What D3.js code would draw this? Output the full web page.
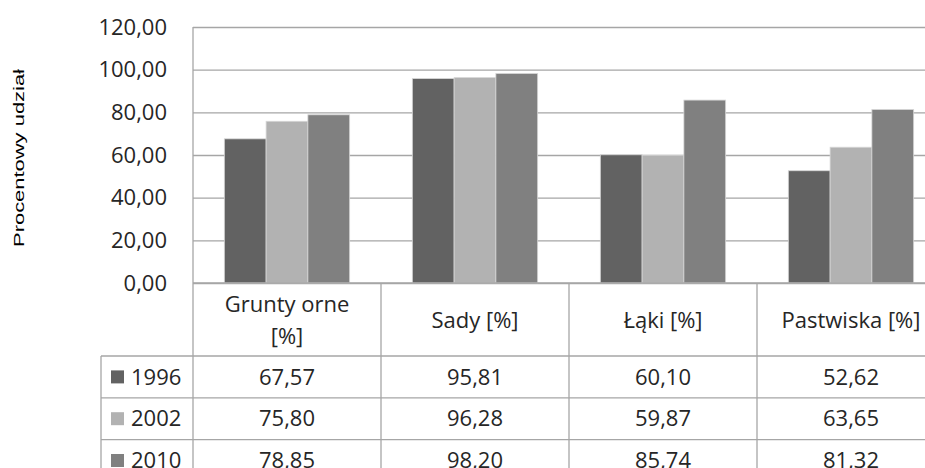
<!DOCTYPE html>
<html>
<head>
<meta charset="utf-8">
<script src="https://cdn.jsdelivr.net/npm/d3@7"></script>
<style>
  html, body { margin: 0; padding: 0; background: #fff; }
  svg { display: block; }
</style>
</head>
<body>
<svg id="chart" width="925" height="468"></svg>
<script>
const categories = ["Grunty orne [%]", "Sady [%]", "Łąki [%]", "Pastwiska [%]"];
const categoryLines = [["Grunty orne", "[%]"], ["Sady [%]"], ["Łąki [%]"], ["Pastwiska [%]"]];
const years = ["1996", "2002", "2010"];
const values1996 = [67.57, 95.81, 60.10, 52.62];
const values2002 = [75.80, 96.28, 59.87, 63.65];
const values2010 = [78.85, 98.20, 85.74, 81.32];
const yTicks = [0, 20, 40, 60, 80, 100, 120];
const yTitle = "Procentowy udział";
const colors = ["#626262", "#b2b2b2", "#808080"];

const seriesValues = [values1996, values2002, values2010];
const fmt = v => v.toFixed(2).replace(".", ",");

const svg = d3.select("#chart");
const plotLeft = 193, plotRight = 945, plotTop = 27, plotBottom = 283;
const tableLeft = 101;
const headerBottom = 356;
const rowH = 41.8;
const txtFont = "'Open Sans', Lato, sans-serif";
const txtColor = "#262626";
const gridColor = "#a6a6a6";

const y = d3.scaleLinear().domain([0, 120]).range([plotBottom, plotTop]);
const x0 = d3.scaleBand().domain(categories).range([plotLeft, plotRight]).padding(0);
const x1 = d3.scaleBand().domain(years).range([0, x0.bandwidth()]).paddingInner(0).paddingOuter(0.75);

// gridlines
const yAxis = d3.axisLeft(y).tickValues(yTicks).tickSize(-(plotRight - plotLeft)).tickFormat(fmt).tickPadding(26);
const gAxis = svg.append("g").attr("transform", `translate(${plotLeft},0)`).call(yAxis);
gAxis.select(".domain").remove();
gAxis.selectAll(".tick line").attr("stroke", gridColor).attr("stroke-width", 1.3);
gAxis.selectAll(".tick text")
  .attr("font-family", txtFont).attr("font-size", 22).attr("fill", txtColor);
// left border of plot
svg.append("line").attr("x1", plotLeft).attr("x2", plotLeft).attr("y1", plotTop).attr("y2", plotBottom)
  .attr("stroke", gridColor).attr("stroke-width", 1.3);

// bars
const groups = svg.append("g").selectAll("g").data(categories).join("g")
  .attr("transform", d => `translate(${x0(d)},0)`);
groups.selectAll("rect")
  .data((c, i) => years.map((yr, j) => ({ yr, j, v: seriesValues[j][i] })))
  .join("rect")
  .attr("x", d => x1(d.yr))
  .attr("width", x1.bandwidth())
  .attr("y", d => y(d.v))
  .attr("height", d => y(0) - y(d.v))
  .attr("fill", d => colors[d.j])
  .attr("stroke", "#d6d6d6")
  .attr("stroke-width", 0.8);

// table
const tbl = svg.append("g");
const rowTop = i => headerBottom + i * rowH;
tbl.append("line").attr("x1", plotLeft).attr("x2", plotRight).attr("y1", plotBottom).attr("y2", plotBottom)
  .attr("stroke", gridColor).attr("stroke-width", 1.3);
[0, 1, 2].forEach(i => {
  tbl.append("line").attr("x1", tableLeft).attr("x2", plotRight).attr("y1", rowTop(i)).attr("y2", rowTop(i))
    .attr("stroke", gridColor).attr("stroke-width", 1.3);
});
const bounds = categories.map(c => x0(c)).concat([plotRight]);
bounds.forEach(bx => {
  tbl.append("line").attr("x1", bx).attr("x2", bx).attr("y1", plotBottom).attr("y2", 480)
    .attr("stroke", gridColor).attr("stroke-width", 1.3);
});
tbl.append("line").attr("x1", tableLeft).attr("x2", tableLeft).attr("y1", headerBottom).attr("y2", 480)
  .attr("stroke", gridColor).attr("stroke-width", 1.3);

// headers
categories.forEach((c, i) => {
  const cx = x0(c) + x0.bandwidth() / 2;
  const lines = categoryLines[i];
  const lh = 32;
  const cy = 320.5;
  lines.forEach((ln, k) => {
    tbl.append("text").attr("x", cx)
      .attr("y", cy + (k - (lines.length - 1) / 2) * lh)
      .attr("dy", "0.35em")
      .attr("text-anchor", "middle")
      .attr("font-family", txtFont).attr("font-size", 22).attr("fill", txtColor)
      .text(ln);
  });
});

// rows
years.forEach((yr, j) => {
  const cy = rowTop(j) + rowH / 2;
  tbl.append("rect").attr("x", 111).attr("y", cy - 6.5).attr("width", 13).attr("height", 13).attr("fill", colors[j]);
  tbl.append("text").attr("x", 131).attr("y", cy).attr("dy", "0.35em")
    .attr("font-family", txtFont).attr("font-size", 22).attr("fill", txtColor).text(yr);
  categories.forEach((c, i) => {
    tbl.append("text").attr("x", x0(c) + x0.bandwidth() / 2).attr("y", cy).attr("dy", "0.35em")
      .attr("text-anchor", "middle")
      .attr("font-family", txtFont).attr("font-size", 22).attr("fill", txtColor)
      .text(fmt(seriesValues[j][i]));
  });
});

// y title
svg.append("text")
  .attr("transform", "translate(24,158) rotate(-90)")
  .attr("text-anchor", "middle")
  .attr("font-family", "'Liberation Sans', Arial, sans-serif")
  .attr("font-size", 15)
  .attr("fill", "#000")
  .attr("textLength", 178)
  .attr("lengthAdjust", "spacingAndGlyphs")
  .text(yTitle);
</script>
</body>
</html>
